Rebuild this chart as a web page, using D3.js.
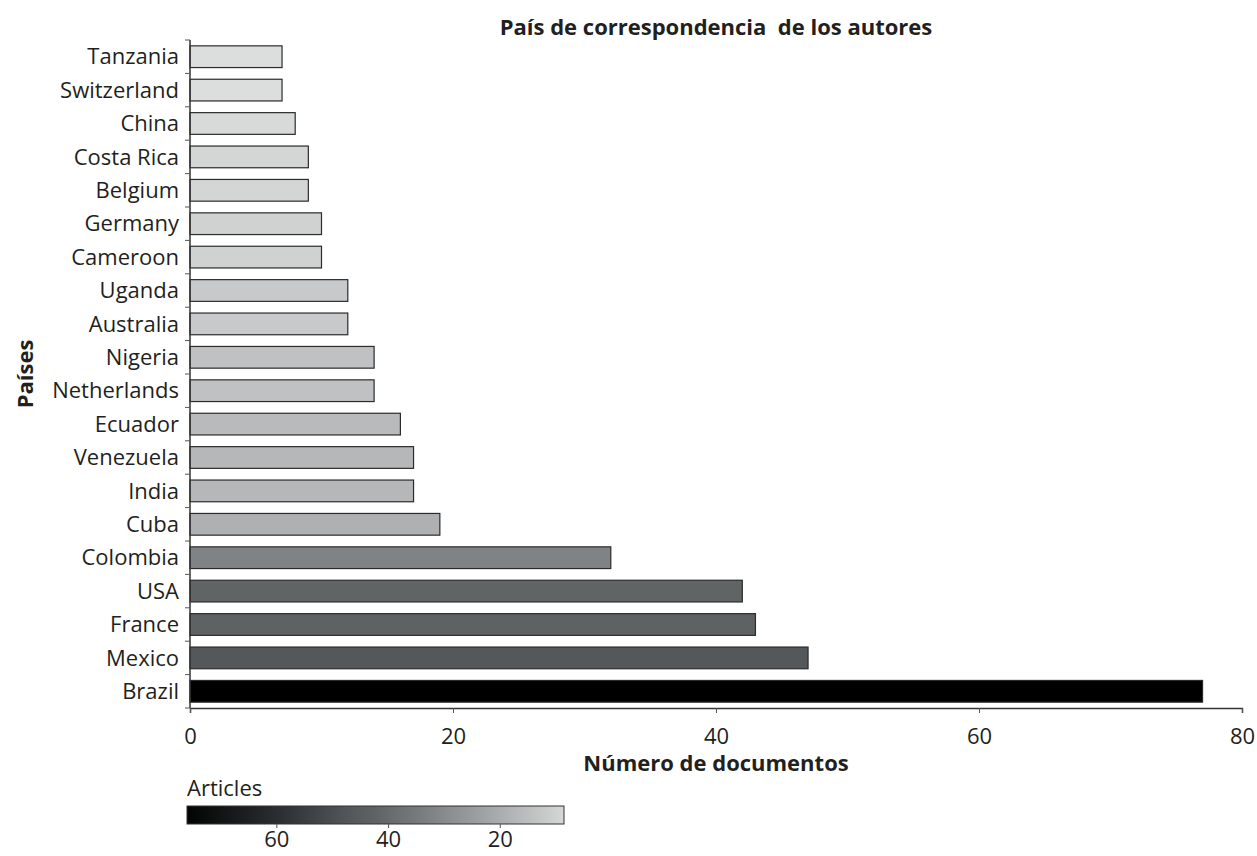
<!DOCTYPE html>
<html>
<head>
<meta charset="utf-8">
<script src="https://cdn.jsdelivr.net/npm/d3@7"></script>
<style>
  body { margin: 0; background: #fff; }
  text { font-family: "Open Sans", "Noto Sans", sans-serif; fill: #231f20; }
</style>
</head>
<body>
<svg id="chart" width="1257" height="856"></svg>
<script>
// data, top to bottom as drawn
var countries = ["Tanzania", "Switzerland", "China", "Costa Rica", "Belgium", "Germany", "Cameroon",
  "Uganda", "Australia", "Nigeria", "Netherlands", "Ecuador", "Venezuela", "India", "Cuba",
  "Colombia", "USA", "France", "Mexico", "Brazil"];
var articles = [7, 7, 8, 9, 9, 10, 10, 12, 12, 14, 14, 16, 17, 17, 19, 32, 42, 43, 47, 77];
var xTicks = [0, 20, 40, 60, 80];
var legendTicks = [60, 40, 20];
var legendDomain = [76, 8.5];

// grey ramp
var colorStops = [77, 60, 47, 42, 32, 19, 14, 7];
var colorRange = ["#000000", "#2a2d30", "#55585a", "#606464", "#808385", "#aeb0b1", "#bfc1c2", "#dcdddd"];

var svg = d3.select("#chart");
var margin = { left: 190, right: 15, top: 40, bottom: 148 };
var width = 1257 - margin.left - margin.right;
var height = 856 - margin.top - margin.bottom;
var fs = 22;

var g = svg.append("g").attr("transform", "translate(" + margin.left + "," + margin.top + ")");

var x = d3.scaleLinear().domain([0, 80]).range([0, width]);
var y = d3.scaleBand().domain(countries).range([0, height]).paddingInner(0.35).paddingOuter(0.175);
var color = d3.scaleLinear().domain(colorStops).range(colorRange);

// bars
g.selectAll("rect.bar")
  .data(countries)
  .enter().append("rect")
  .attr("class", "bar")
  .attr("x", 0)
  .attr("y", function(d) { return y(d); })
  .attr("width", function(d, i) { return x(articles[i]); })
  .attr("height", y.bandwidth())
  .attr("fill", function(d, i) { return color(articles[i]); })
  .attr("stroke", "#2b2b2b")
  .attr("stroke-width", 1.2);

// x axis
var xAxis = g.append("g")
  .attr("transform", "translate(0," + height + ")")
  .call(d3.axisBottom(x).tickValues(xTicks).tickSize(5).tickPadding(15));
xAxis.select(".domain").attr("stroke", "#333").attr("stroke-width", 1.5);
xAxis.selectAll(".tick line").attr("stroke", "#555");
xAxis.selectAll(".tick text").attr("font-size", fs).attr("fill", "#231f20")
  .style("font-family", "'Open Sans', sans-serif");

// y axis: line plus ticks at band boundaries
var step = y.step();
var bounds = countries.map(function(d) { return y(d) - y.paddingInner() * step / 2; });
bounds.push(height);
g.append("line").attr("x1", 0).attr("x2", 0).attr("y1", 0).attr("y2", height)
  .attr("stroke", "#333").attr("stroke-width", 1.5);
g.selectAll("line.ytick")
  .data(bounds)
  .enter().append("line")
  .attr("class", "ytick")
  .attr("x1", -5).attr("x2", 0)
  .attr("y1", function(d) { return d; }).attr("y2", function(d) { return d; })
  .attr("stroke", "#555");

g.selectAll("text.ylab")
  .data(countries)
  .enter().append("text")
  .attr("class", "ylab")
  .attr("x", -11)
  .attr("y", function(d) { return y(d) + y.bandwidth() / 2; })
  .attr("dy", "0.35em")
  .attr("text-anchor", "end")
  .attr("font-size", fs)
  .text(function(d) { return d; });

// titles
svg.append("text")
  .attr("x", margin.left + width / 2).attr("y", 35)
  .attr("text-anchor", "middle").attr("font-size", fs).attr("font-weight", "bold")
  .style("white-space", "pre")
  .text("País de correspondencia  de los autores");

svg.append("text")
  .attr("x", margin.left + width / 2).attr("y", 771)
  .attr("text-anchor", "middle").attr("font-size", fs).attr("font-weight", "bold")
  .text("Número de documentos");

svg.append("text")
  .attr("transform", "translate(33," + (margin.top + height / 2) + ") rotate(-90)")
  .attr("text-anchor", "middle").attr("font-size", fs).attr("font-weight", "bold")
  .text("Países");

// legend
var lx = d3.scaleLinear().domain(legendDomain).range([187, 564]);
var defs = svg.append("defs");
var grad = defs.append("linearGradient").attr("id", "legendGrad")
  .attr("x1", "0%").attr("x2", "100%").attr("y1", "0%").attr("y2", "0%");
d3.range(0, 1.0001, 0.05).forEach(function(t) {
  var v = legendDomain[0] + t * (legendDomain[1] - legendDomain[0]);
  grad.append("stop").attr("offset", (t * 100) + "%").attr("stop-color", color(v));
});

svg.append("text")
  .attr("x", 187).attr("y", 796)
  .attr("font-size", fs)
  .text("Articles");

svg.append("rect")
  .attr("x", lx.range()[0]).attr("y", 806)
  .attr("width", lx.range()[1] - lx.range()[0]).attr("height", 18)
  .attr("fill", "url(#legendGrad)")
  .attr("stroke", "#333").attr("stroke-width", 1);

var legendAxis = svg.append("g")
  .attr("transform", "translate(0,824)")
  .call(d3.axisBottom(lx).tickValues(legendTicks).tickSize(4).tickPadding(3));
legendAxis.select(".domain").remove();
legendAxis.selectAll(".tick line").attr("stroke", "#555");
legendAxis.selectAll(".tick text").attr("font-size", fs).attr("fill", "#231f20")
  .style("font-family", "'Open Sans', sans-serif");
</script>
</body>
</html>
